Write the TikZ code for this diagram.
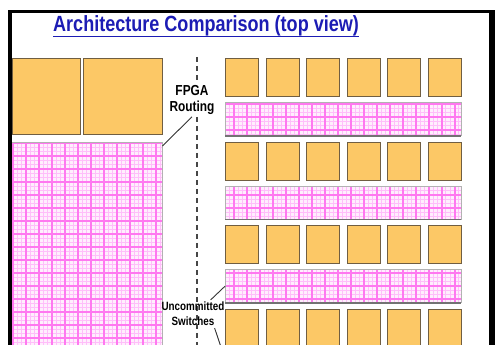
\documentclass[tikz,border=0pt]{standalone}
\usepackage{fontspec}
\setmainfont{Liberation Sans}
\newfontfamily\narrowfont[FakeStretch=0.82]{Liberation Sans}
\usetikzlibrary{positioning}

\definecolor{blockfill}{RGB}{252,200,102}
\definecolor{blockedge}{RGB}{112,94,66}
\definecolor{meshbg}{RGB}{255,238,253}
\definecolor{gridfine}{RGB}{255,190,250}
\definecolor{gridmajor}{RGB}{255,120,240}
\definecolor{titleblue}{RGB}{28,28,180}

\tikzset{
  block/.style={draw=blockedge, fill=blockfill, line width=1, inner sep=0,
    minimum width=33, minimum height=38, anchor=north west},
  switchbox/.style={fill=meshbg, inner sep=0, anchor=north west},
  callout/.style={font=\narrowfont\bfseries, align=center, inner sep=2},
  rail/.style={gray!55!black, line width=1.6, dash pattern=on 5pt off 4pt},
  leader/.style={black!80, line width=0.9},
}

% pink switch mesh inside a named box
\newcommand{\meshfill}[1]{%
  \begin{scope}
    \clip (#1.south west) rectangle (#1.north east);
    \draw[gridfine, line width=1, step=4.33pt] (#1.south west) grid (#1.north east);
    \draw[gridmajor, line width=1.2, step=13pt] (#1.south west) grid (#1.north east);
  \end{scope}
  \draw[gray!60, line width=1] (#1.south west) rectangle (#1.north east);
}

\begin{document}
\begin{tikzpicture}[x=1pt,y=-1pt]
  \useasboundingbox (0,0) rectangle (495,345);
  \clip (0,0) rectangle (495,345);

  % title
  \node[font=\narrowfont\bfseries\fontsize{22}{26}\selectfont, text=titleblue,
    anchor=base west, inner sep=0] (title) at (53,32)
    {Architecture Comparison (top view)};
  \draw[titleblue, line width=1.6]
    ([yshift=-4.5pt]title.base west) -- ([yshift=-4.5pt]title.base east);

  % FPGA side: two big blocks over one large routing area
  \node[block, minimum width=68, minimum height=76] (big1) at (12,58) {};
  \node[block, minimum width=79, minimum height=76] (big2) at (83,58) {};
  \node[switchbox, minimum width=151, minimum height=230] (fabric) at (11,142) {};
  \meshfill{fabric}

  % other side: rows of small blocks with switch channels between
  \foreach \r [count=\i] in {58,141.5,225,308.5} {
    \foreach \j in {1,...,6}
      \node[block] (blk-\i-\j) at ({225+40.6*(\j-1)},\r) {};
  }
  \foreach \i in {1,2,3} {
    \node[switchbox, minimum width=236, minimum height=33]
      (chan\i) at (225,{102.5+83.5*(\i-1)}) {};
    \meshfill{chan\i}
    \draw[black!55, line width=1.5] (chan\i.south west) -- (chan\i.south east);
  }

  % labels and the dividing line
  \node[callout, font=\narrowfont\bfseries\fontsize{14.5}{16}\selectfont] (fpga) at (192,100)
    {FPGA\\Routing};
  \coordinate (railtop) at (197,57);
  \coordinate (railbot) at (197,350);
  \draw[rail] (railtop) -- (fpga.north -| railtop);
  \draw[rail] (fpga.south -| railtop) -- (railbot);
  \node[callout, font=\narrowfont\bfseries\fontsize{12}{15}\selectfont] (uncom) at (193,314)
    {Uncommitted\\Switches};

  \draw[leader] (fpga.south) -- ([yshift=-4pt]fabric.north east);
  \draw[leader] ([xshift=-16pt]uncom.north east) -- (chan3.west);
  \coordinate (offpage) at (226,362);
  \draw[leader] ([xshift=-12pt]uncom.south east) -- (offpage);

  % slide frame
  \fill[black] (8,10) rectangle (489,13);
  \fill[black] (8,10) rectangle (12,345);
  \fill[black] (489,10) rectangle (495,345);
\end{tikzpicture}
\end{document}
